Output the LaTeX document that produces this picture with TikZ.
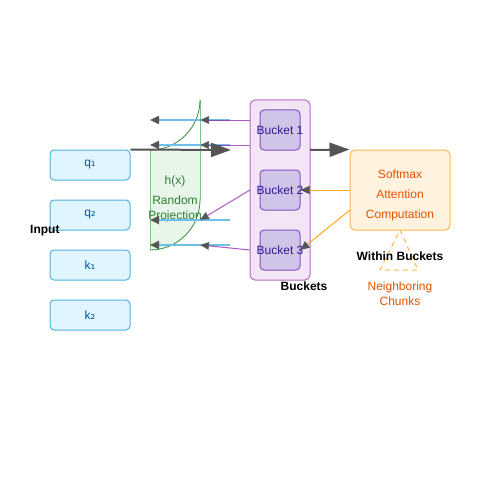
\documentclass[tikz,border=0pt]{standalone}
\usepackage{fontspec}
\setmainfont{Liberation Sans}
\newfontfamily\dejavu{DejaVu Sans}
\usetikzlibrary{arrows.meta}
\definecolor{inFill}{HTML}{E1F5FE}
\definecolor{inDraw}{HTML}{4FB3E6}
\definecolor{inText}{HTML}{01579B}
\definecolor{gFill}{HTML}{E8F5E9}
\definecolor{gLine}{HTML}{81C784}
\definecolor{gDark}{HTML}{388E3C}
\definecolor{gText}{HTML}{2E7D32}
\definecolor{pFill}{HTML}{F3E5F5}
\definecolor{pDraw}{HTML}{BA68C8}
\definecolor{bFill}{HTML}{D1C4E9}
\definecolor{bDraw}{HTML}{7E57C2}
\definecolor{bText}{HTML}{311B92}
\definecolor{pLine}{HTML}{8E24AA}
\definecolor{oFill}{HTML}{FFF3E0}
\definecolor{oDraw}{HTML}{FFB74D}
\definecolor{oText}{HTML}{E65100}
\definecolor{oLine}{HTML}{FFA726}
\definecolor{blLine}{HTML}{6EC0E8}
\definecolor{tipGray}{HTML}{555555}
\tikzset{
  inbox/.style={draw=inDraw, fill=inFill, line width=1pt, rounded corners=4pt, minimum width=80pt, minimum height=30pt, inner sep=0pt, text=inText, font=\fontsize{12}{14}\selectfont},
  bucketouter/.style={draw=pDraw, fill=pFill, line width=1pt, rounded corners=5pt, minimum width=60pt, minimum height=180pt, inner sep=0pt},
  bucketbox/.style={draw=bDraw, fill=bFill, line width=1pt, rounded corners=4pt, minimum width=40pt, minimum height=40pt, inner sep=0pt},
  buckettext/.style={text=bText, font=\fontsize{12}{14}\selectfont, inner sep=0pt},
  smbox/.style={draw=oDraw, fill=oFill, line width=1pt, rounded corners=5pt, minimum width=100pt, minimum height=80pt, inner sep=0pt},
  smtext/.style={text=oText, font=\fontsize{12}{20}\selectfont, align=center, inner sep=0pt},
  smalltip/.style={-{Triangle[length=9pt,width=8pt,fill=tipGray,color=tipGray]}},
  bluearr/.style={smalltip, draw=blLine, line width=2pt},
  purparr/.style={smalltip, draw=pLine, draw opacity=0.75, line width=1pt},
  orgarr/.style={smalltip, draw=oLine, line width=1pt},
  bigarr/.style={-{Triangle[length=20pt,width=14pt,fill=tipGray,color=tipGray]}, draw=tipGray, line width=2pt},
  lbl/.style={font=\bfseries\fontsize{12}{14}\selectfont, inner sep=0pt},
  gtext/.style={text=gText, font=\fontsize{12}{15}\selectfont, align=center, inner sep=0pt},
}
\begin{document}
\begin{tikzpicture}[x=1pt,y=-1pt]
\useasboundingbox (0,0) rectangle (500,500);
% green projection shape
\fill[gFill] (150,150) -- (200,150) -- (200,200) .. controls (200,227.6) and (177.6,250) .. (150,250) -- cycle;
\draw[gLine, line width=1pt] (150,150) -- (150,250);
\draw[gLine, line width=1pt] (200,100) -- (200,200);
\draw[gDark, line width=0.8pt] (200,200) .. controls (200,227.6) and (177.6,250) .. (150,250);
\draw[gDark, line width=0.8pt] (150,150) .. controls (177.6,150) and (200,127.6) .. (200,100);
\node[gtext] (hx) at (175,181) {h(x)};
\node[gtext] (rp) at (175,209) {Random\\Projection};
% inputs
\node[inbox] (q1) at (90,165) {q{\dejavu ₁}};
\node[inbox] (q2) at (90,215) {q{\dejavu ₂}};
\node[inbox] (k1) at (90,265) {k{\dejavu ₁}};
\node[inbox] (k2) at (90,315) {k{\dejavu ₂}};
\node[lbl, anchor=west] (inp) at (30,231) {Input};
% buckets
\node[bucketouter] (bk) at (280,190) {};
\node[bucketbox] (b1) at (280,130) {};
\node[bucketbox] (b2) at (280,190) {};
\node[bucketbox] (b3) at (280,250) {};
\node[buckettext] (b1t) at (280,130) {Bucket 1};
\node[buckettext] (b2t) at (280,190) {Bucket 2};
\node[buckettext] (b3t) at (280,250) {Bucket 3};
\node[lbl] (bkl) at (304,286) {Buckets};
% softmax
\node[smbox] (sm) at (400,190) {};
\node[smtext] (smt) at (400,195) {Softmax\\Attention\\Computation};
% triangle
\coordinate (tA) at (400,230);
\coordinate (tB) at (418,270);
\coordinate (tC) at (380,270);
\draw[oDraw, line width=1pt, dash pattern=on 5pt off 4pt] (tA) -- (tB) -- (tC) -- cycle;
\node[lbl] (wb) at (400,256) {Within Buckets};
\node[text=oText, font=\fontsize{12}{15}\selectfont, align=center, inner sep=0pt] (nc) at (400,294) {Neighboring\\Chunks};
% blue lines
\coordinate (s1) at (230,120); \coordinate (e1) at (150,120);
\coordinate (s2) at (230,145); \coordinate (e2) at (150,145);
\coordinate (s3) at (230,220); \coordinate (e3) at (150,220);
\coordinate (s4) at (230,245); \coordinate (e4) at (150,245);
\draw[bluearr] (s1) -- (e1);
\draw[bluearr] (s2) -- (e2);
\draw[bluearr] (s3) -- (e3);
\draw[bluearr] (s4) -- (e4);
% purple lines
\coordinate (p1) at (250,120); \coordinate (h1) at (200,120);
\coordinate (p2) at (250,145); \coordinate (h2) at (200,145);
\coordinate (p3) at (250,190); \coordinate (h3) at (200,220);
\coordinate (p4) at (250,250); \coordinate (h4) at (200,245);
\draw[purparr] (p1) -- (h1);
\draw[purparr] (p2) -- (h2);
\draw[purparr] (p3) -- (h3);
\draw[purparr] (p4) -- (h4);
% orange
\coordinate (o2) at (350,210);
\draw[orgarr] (sm.west) -- (b2.east);
\draw[orgarr] (o2) -- (b3.east);
% black arrows
\coordinate (ba) at (231,150);
\coordinate (bs) at (310,150);
\draw[bigarr] (q1.north east) -- (ba);
\draw[bigarr] (bs) -- (sm.north west);
\end{tikzpicture}
\end{document}
